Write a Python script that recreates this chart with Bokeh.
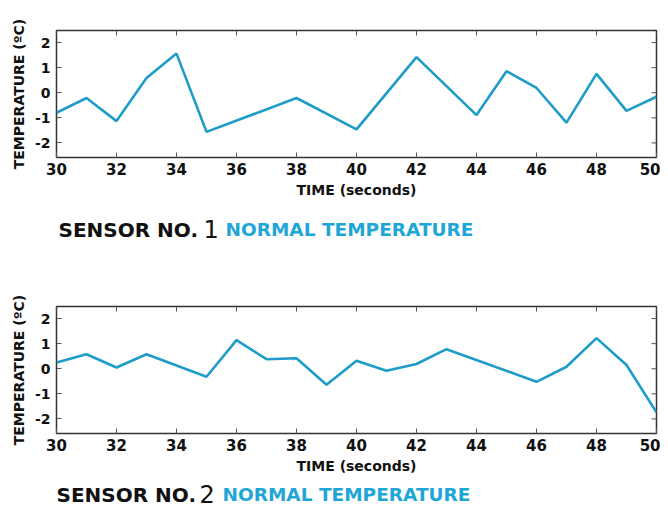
from bokeh.plotting import figure
from bokeh.models import Label, Range1d, FixedTicker
from bokeh.layouts import column
from bokeh.embed import file_html
from bokeh.resources import INLINE

# Sensor 1 readings (time in seconds, temperature deviation in °C)
t1 = [30, 31, 32, 33, 34, 35, 38, 40, 42, 44, 45, 46, 47, 48, 49, 50]
v1 = [-0.80, -0.21, -1.13, 0.59, 1.56, -1.56, -0.21, -1.46, 1.42, -0.89, 0.86, 0.19, -1.19, 0.75, -0.72, -0.16]

# Sensor 2 readings
t2 = [30, 31, 32, 33, 35, 36, 37, 38, 39, 40, 41, 42, 43, 46, 47, 48, 49, 50]
v2 = [0.25, 0.58, 0.05, 0.58, -0.32, 1.14, 0.38, 0.42, -0.64, 0.32, -0.08, 0.19, 0.78, -0.52, 0.08, 1.22, 0.15, -1.74]

x_ticks = [30, 32, 34, 36, 38, 40, 42, 44, 46, 48, 50]
y_ticks = [-2, -1, 0, 1, 2]
y_tick_labels = {-2: "-2", -1: "-1", 0: "0", 1: "1", 2: "2"}
sensor_labels = ["1", "2"]

X0, X1 = 30, 50
Y0, Y1 = -2.58, 2.48

FONT = "DejaVu Sans"
LINE_COLOR = "#1e9cc8"
TEXT_BLUE = "#1ea6d6"
TICK_COLOR = "#555555"
W = 660
LEFT = 56


def make_plot(t, v, border_top, border_bottom):
    frame_h = 127
    p = figure(width=W, height=border_top + frame_h + border_bottom,
               output_backend="svg", toolbar_location=None,
               x_range=Range1d(X0, X1), y_range=Range1d(Y0, Y1),
               min_border_left=LEFT, min_border_right=4,
               min_border_top=border_top, min_border_bottom=border_bottom)
    p.grid.visible = False
    p.outline_line_color = "#333333"
    p.outline_line_width = 1.5

    for ax in p.xaxis:
        ax.ticker = FixedTicker(ticks=x_ticks)
        ax.axis_label = "TIME (seconds)"
        ax.major_label_standoff = 5
        ax.axis_label_standoff = 4
        ax.major_label_text_font_size = "15px"
    for ax in p.yaxis:
        ax.ticker = FixedTicker(ticks=y_ticks)
        ax.major_label_overrides = y_tick_labels
        ax.axis_label = "TEMPERATURE (ºC)"
        ax.major_label_standoff = 6
        ax.axis_label_standoff = 5
        ax.major_label_text_font_size = "14px"
    for ax in p.xaxis + p.yaxis:
        ax.axis_line_color = None
        ax.major_tick_in = 5
        ax.major_tick_out = 0
        ax.major_tick_line_color = TICK_COLOR
        ax.minor_tick_line_color = None
        ax.major_label_text_font = FONT
        ax.major_label_text_font_style = "bold"
        ax.major_label_text_color = "#111111"
        ax.axis_label_text_font = FONT
        ax.axis_label_text_font_style = "bold"
        ax.axis_label_text_font_size = "14px"
        ax.axis_label_text_color = "#111111"

    # Box ticks on the top and right edges (matching the inside ticks)
    p.segment(x0=x_ticks, y0=[Y1] * len(x_ticks), x1=x_ticks,
              y1=[Y1 - 0.2] * len(x_ticks), line_color=TICK_COLOR, line_width=1)
    p.segment(x0=[X1] * len(y_ticks), y0=y_ticks, x1=[X1 - 0.167] * len(y_ticks),
              y1=y_ticks, line_color=TICK_COLOR, line_width=1)

    p.line(t, v, line_color=LINE_COLOR, line_width=2.6)
    return p


def make_caption(sensor, height, center_from_top, x_sensor, x_num, x_normal):
    c = figure(width=W, height=height, output_backend="svg", toolbar_location=None,
               x_range=Range1d(0, W), y_range=Range1d(0, height),
               x_axis_location=None, y_axis_location=None,
               min_border=0, min_border_left=0, min_border_right=0,
               min_border_top=0, min_border_bottom=0)
    c.grid.visible = False
    c.outline_line_color = None
    y = height - center_from_top
    c.add_layout(Label(x=x_sensor, y=y, x_units="screen", y_units="screen",
                       text="SENSOR NO.", text_font=FONT, text_font_style="bold",
                       text_font_size="20px", text_color="#111111",
                       text_baseline="middle"))
    c.add_layout(Label(x=x_num, y=y + 1, x_units="screen", y_units="screen",
                       text=sensor, text_font=FONT, text_font_style="normal",
                       text_font_size="24px", text_color="#111111",
                       text_baseline="middle"))
    c.add_layout(Label(x=x_normal, y=y, x_units="screen", y_units="screen",
                       text="NORMAL TEMPERATURE", text_font=FONT, text_font_style="bold",
                       text_font_size="18.5px", text_color=TEXT_BLUE,
                       text_baseline="middle"))
    return c


p1 = make_plot(t1, v1, 30, 45)
c1 = make_caption(sensor_labels[0], 56, 27, 2, 147, 169)
p2 = make_plot(t2, v2, 48, 45)
c2 = make_caption(sensor_labels[1], 31, 16, 0, 143, 166)
layout = column(p1, c1, p2, c2, spacing=0)

open("out.html", "w").write(file_html(layout, INLINE))
